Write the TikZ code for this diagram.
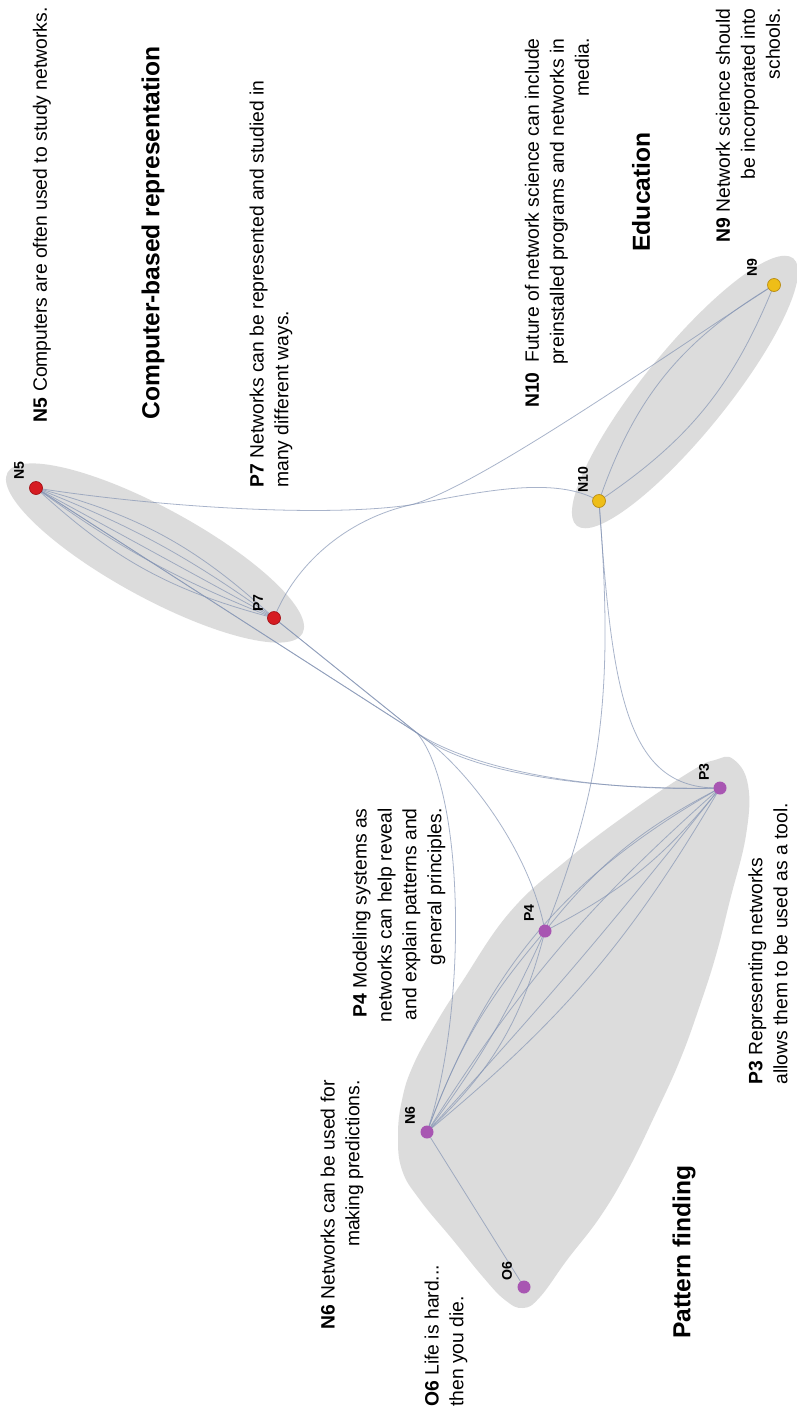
\documentclass[tikz,border=0pt]{standalone}
\usepackage{fontspec}
\setmainfont{Liberation Sans}
\definecolor{blobgray}{RGB}{220,220,220}
\definecolor{edgeblue}{RGB}{132,148,180}
\definecolor{nred}{RGB}{214,28,34}
\definecolor{nredd}{RGB}{165,20,25}
\definecolor{nyel}{RGB}{238,190,24}
\definecolor{nyeld}{RGB}{185,140,20}
\definecolor{npur}{RGB}{168,86,178}
\pgfdeclarelayer{bg}
\pgfdeclarelayer{edges}
\pgfsetlayers{bg,edges,main}
\begin{document}
\begin{tikzpicture}[x=0.02cm,y=-0.02cm,
 blob/.style={fill=blobgray},
 edge/.style={draw=edgeblue, line width=0.45pt, opacity=0.7},
 vtx/.style={circle, inner sep=0pt, minimum size=0.26cm},
 redv/.style={vtx, fill=nred, draw=nredd, line width=0.4pt},
 yelv/.style={vtx, fill=nyel, draw=nyeld, line width=0.4pt},
 purv/.style={vtx, fill=npur},
 vlab/.style={rotate=90, font=\fontsize{8}{9}\selectfont\bfseries, inner sep=0pt},
 txt/.style={rotate=90, font=\fontsize{11}{14.2}\selectfont, inner sep=0pt},
 ttl/.style={rotate=90, font=\fontsize{14}{16}\selectfont\bfseries, inner sep=0pt},
]
\useasboundingbox (0,0) rectangle (797,1416);

% vertices
\node[redv] (N5) at (36,488) {};
\node[redv] (P7) at (274,618) {};
\node[yelv] (N10) at (599,501) {};
\node[yelv] (N9) at (774,285) {};
\node[purv] (P3) at (720,788) {};
\node[purv] (P4) at (545,931) {};
\node[purv] (N6) at (427,1132) {};
\node[purv] (O6) at (524,1287) {};

% vertex labels
\node[vlab] (lN5) at (19,471) {N5};
\node[vlab] (lP7) at (258,603) {P7};
\node[vlab] (lN10) at (583,480) {N10};
\node[vlab] (lN9) at (752,268) {N9};
\node[vlab] (lP3) at (704,772) {P3};
\node[vlab] (lP4) at (529,913) {P4};
\node[vlab] (lN6) at (410,1116) {N6};
\node[vlab] (lO6) at (507,1271) {O6};

\coordinate (J) at (417,733);
\coordinate (K) at (410,505);

\begin{pgfonlayer}{bg}
\fill[white] (0,0) rectangle (797,1416);
\fill[blob, shift={(155,553)}, rotate=-28.6] (0,0) ellipse [x radius=3.36cm, y radius=0.9cm];
\fill[blob, shift={(685,392)}, rotate=51] (0,0) ellipse [x radius=3.44cm, y radius=0.84cm];
\fill[blob] plot[smooth cycle, tension=0.7] coordinates {
 (733,759) (748,785) (746,835) (730,900) (716,955) (700,1005) (680,1060)
 (655,1115) (628,1170) (600,1217) (567,1260) (540,1297) (523,1308) (505,1300)
 (483,1277) (453,1240) (420,1200) (402,1170) (398,1135) (402,1100) (412,1068)
 (432,1030) (462,982) (510,912) (567,860) (633,810) (693,770) (715,760)};
\end{pgfonlayer}

\begin{pgfonlayer}{edges}
% computer cluster
\draw[edge] (N5.center) -- (P7.center);
\draw[edge] (N5.center) to[bend left=14] (P7.center);
\draw[edge] (N5.center) to[bend left=7] (P7.center);
\draw[edge] (N5.center) to[bend right=7] (P7.center);
\draw[edge] (N5.center) to[bend right=14] (P7.center);
% to pattern finding
\draw[edge] (N5.center) -- (J) .. controls (477,772) and (600,792) .. (P3.center);
\draw[edge] (P7.center) -- (J) .. controls (470,776) and (600,790) .. (P3.center);
\draw[edge] (N5.center) -- (J) .. controls (465,765) and (530,850) .. (P4.center);
\draw[edge] (P7.center) -- (J) .. controls (465,790) and (468,1010) .. (N6.center);
% to education
\draw[edge] (N5.center) .. controls (150,506) and (320,518) .. (K) .. controls (480,492) and (555,475) .. (N10.center);
\draw[edge] (P7.center) .. controls (295,565) and (345,520) .. (K) .. controls (475,490) and (680,345) .. (N9.center);
% education cluster
\draw[edge] (N10.center) to[bend left=20] (N9.center);
\draw[edge] (N10.center) to[bend right=17] (N9.center);
\draw[edge] (N10.center) .. controls (612,690) and (625,790) .. (P3.center);
\draw[edge] (N10.center) .. controls (615,700) and (600,790) .. (P4.center);
% pattern cluster
\draw[edge] (P3.center) to[bend left=12] (P4.center);
\draw[edge] (P3.center) to[bend right=12] (P4.center);
\draw[edge] (P3.center) to[bend left=10] (N6.center);
\draw[edge] (P3.center) to[bend left=2] (N6.center);
\draw[edge] (P3.center) to[bend right=8] (N6.center);
\draw[edge] (P3.center) to[bend right=20] (N6.center);
\draw[edge] (P4.center) to[bend left=16] (N6.center);
\draw[edge] (P4.center) to[bend left=6] (N6.center);
\draw[edge] (P4.center) to[bend right=10] (N6.center);
\draw[edge] (N6.center) -- (O6.center);
\end{pgfonlayer}

% texts
\node[txt, anchor=east] (tN5) at (42,7) {\textbf{N5} Computers are often used to study networks.};
\node[ttl] (tCB) at (153,233) {Computer-based representation};
\node[txt, anchor=west, align=left] (tP7) at (271,488) {\textbf{P7} Networks can be represented and studied in\\many different ways.};
\node[txt, anchor=east, align=right] (tN10) at (557,38) {\textbf{N10}\enspace Future of network science can include\\preinstalled programs and networks in\\media.};
\node[ttl] (tEd) at (641,192) {Education};
\node[txt, anchor=east, align=right] (tN9) at (748,8) {\textbf{N9} Network science should\\be incorporated into\\schools.};
\node[txt, anchor=east, align=right] (tN6) at (342,1080) {\textbf{N6} Networks can be used for\\making predictions.};
\node[txt, anchor=east, align=right] (tP4) at (399,808) {\textbf{P4} Modeling systems as\\networks can help reveal\\and explain patterns and\\general principles.};
\node[txt, anchor=west, align=left] (tO6) at (446,1407) {\textbf{O6} Life is hard...\\then you die.};
\node[txt, anchor=west, align=left] (tP3) at (768,1085) {\textbf{P3} Representing networks\\allows them to be used as a tool.};
\node[ttl] (tPF) at (684,1252) {Pattern finding};
\end{tikzpicture}
\end{document}
